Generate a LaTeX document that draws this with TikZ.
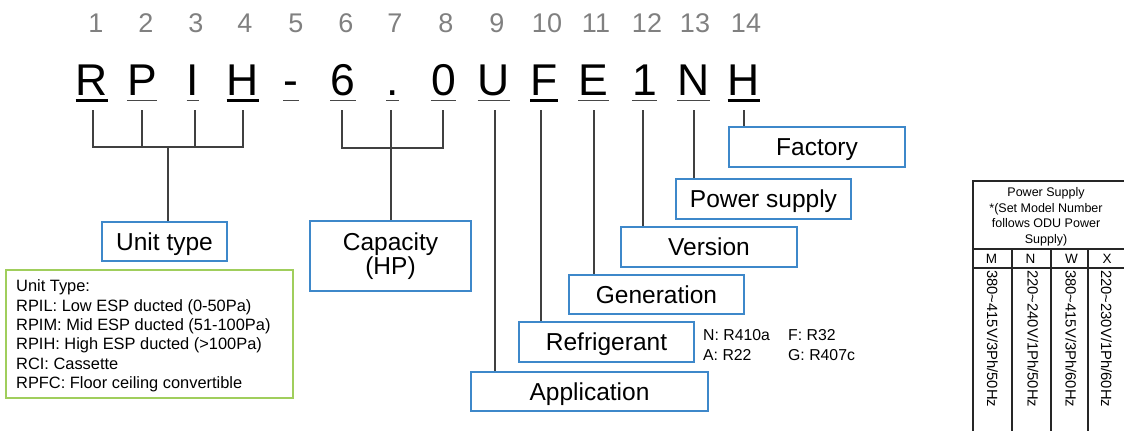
\documentclass[tikz,border=0pt]{standalone}
\usepackage{fontspec}
\setmainfont{Liberation Sans}
\definecolor{boxblue}{RGB}{62,136,202}
\definecolor{boxgreen}{RGB}{160,206,92}
\definecolor{wirecol}{RGB}{64,64,64}
\definecolor{numgrey}{RGB}{128,128,128}
\tikzset{
  bigletter/.style={anchor=base, inner sep=0pt, font=\fontsize{44.5bp}{52bp}\selectfont},
  posnum/.style={anchor=base, inner sep=0pt, text=numgrey, font=\fontsize{27bp}{32bp}\selectfont},
  ulthick/.style={line width=2.4bp, black},
  ulthin/.style={line width=1.6bp, black!72},
  wire/.style={draw=wirecol, line width=1.3bp},
  labelbox/.style={draw=boxblue, line width=1.4bp, inner sep=0pt, text height=17.2bp, text depth=0pt, font=\fontsize{24.5bp}{28bp}\selectfont},
  boxtext/.style={anchor=base, inner sep=0pt, font=\fontsize{24.5bp}{24bp}\selectfont},
  smalltext/.style={anchor=base west, inner sep=0pt},
  tabline/.style={draw=black!85, line width=1.1bp},
}
\begin{document}
\begin{tikzpicture}[x=1bp,y=-1bp]
\useasboundingbox (0,0) rectangle (1124,430);
\clip (0,0) rectangle (1124,430);

% position numbers
\foreach \n/\x in {1/96,2/146,3/196,4/245,5/296,6/346,7/395,8/446,9/497,10/547,11/596,12/647,13/695,14/746}
  \node[posnum] (N\n) at (\x,32) {\n};

% model letters
\foreach \n/\x/\c in {1/92/R,2/142/P,3/193/I,4/243/H,5/291/-,6/343/6,7/392.5/.,8/443.5/0,9/494/U,10/544/F,11/593.5/E,12/644.5/1,13/693.5/N,14/744/H}
  \node[bigletter] (L\n) at (\x,95) {\c};

\foreach \n in {1,4,10,14}
  \draw[ulthick] ([yshift=-5.6bp]L\n.base west) -- ([yshift=-5.6bp]L\n.base east);
\foreach \n in {2,3,5,6,7,8,9,11,12,13}
  \draw[ulthin] ([yshift=-5.6bp]L\n.base west) -- ([yshift=-5.6bp]L\n.base east);

% tick start points
\foreach \n/\x in {1/93,2/142,3/195,4/243,6/342,7/391,8/443,9/495,10/541,11/594,12/643,13/694,14/744}
  \coordinate (T\n) at (\x,110);

% Unit type
\node[labelbox, minimum width=125bp, minimum height=39bp] (ut) at (164.5,241.5) {Unit type};
\coordinate (utbar) at (168,147);
\draw[wire] (T1) -- (T1 |- utbar) -- (T4 |- utbar) -- (T4);
\draw[wire] (T2) -- (T2 |- utbar);
\draw[wire] (T3) -- (T3 |- utbar);
\draw[wire] (utbar) -- (utbar |- ut.north);

% Unit type list
\node[draw=boxgreen, line width=1.4bp, inner sep=0pt, minimum width=287bp, minimum height=128bp] (utlist) at (149.5,334) {};
\node[smalltext, font=\fontsize{16.4bp}{19.4bp}\selectfont] (utlisttext) at (16,291.7)
  {\begin{tabular}[t]{@{}l@{}}Unit Type:\\RPIL: Low ESP ducted (0-50Pa)\\RPIM: Mid ESP ducted (51-100Pa)\\RPIH: High ESP ducted (>100Pa)\\RCI: Cassette\\RPFC: Floor ceiling convertible\end{tabular}};

% Capacity
\node[labelbox, minimum width=161bp, minimum height=70bp] (cap) at (390.5,256) {};
\node[boxtext] (captext) at (390.5,250) {\begin{tabular}[t]{@{}c@{}}Capacity\\(HP)\end{tabular}};
\coordinate (capbar) at (391,148);
\draw[wire] (T6) -- (T6 |- capbar) -- (T8 |- capbar) -- (T8);
\draw[wire] (T7) -- (T7 |- capbar);
\draw[wire] (capbar) -- (capbar |- cap.north);

% Right-hand boxes
\node[labelbox, minimum width=237bp, minimum height=39bp] (app) at (589.5,391.5) {Application};
\node[labelbox, minimum width=175bp, minimum height=40bp] (ref) at (606.5,342) {Refrigerant};
\node[labelbox, minimum width=175bp, minimum height=39bp] (gen) at (656.5,294.5) {Generation};
\node[labelbox, minimum width=176bp, minimum height=40bp] (ver) at (709,247) {Version};
\node[labelbox, minimum width=175bp, minimum height=40bp] (pow) at (763.5,199) {Power supply};
\node[labelbox, minimum width=176bp, minimum height=40bp] (fac) at (817,147) {Factory};

\draw[wire] (T9) -- (T9 |- app.north);
\draw[wire] (T10) -- (T10 |- ref.north);
\draw[wire] (T11) -- (T11 |- gen.north);
\draw[wire] (T12) -- (T12 |- ver.north);
\draw[wire] (T13) -- (T13 |- pow.north);
\draw[wire] (T14) -- (T14 |- fac.north);

% Refrigerant codes
\node[smalltext, font=\fontsize{15.8bp}{19.3bp}\selectfont] (refnote) at (703,340.7)
  {\begin{tabular}[t]{@{}l@{}l@{}}\makebox[85bp][l]{N: R410a}&F: R32\\A: R22&G: R407c\end{tabular}};

% Power supply table
\draw[tabline] (973,181) rectangle (1127,440);
\draw[tabline] (973,249) -- (1127,249);
\draw[tabline] (973,268) -- (1127,268);
\foreach \x in {1012,1051,1088}
  \draw[tabline] (\x,249) -- (\x,440);
\node[anchor=base, inner sep=0pt, font=\fontsize{12.5bp}{15.5bp}\selectfont] (pshead) at (1046,196.7)
  {\begin{tabular}[t]{@{}c@{}}Power Supply\\{*}(Set Model Number\\follows ODU Power\\Supply)\end{tabular}};
\foreach \c/\x in {M/991.5,N/1030.5,W/1071.5,X/1107}
  \node[anchor=base, inner sep=0pt, font=\fontsize{13.5bp}{15bp}\selectfont] (code\c) at (\x,263.5) {\c};
\foreach \c/\x/\t in {M/992.5/{380\textasciitilde 415V/3Ph/50Hz},N/1033/{220\textasciitilde 240V/1Ph/50Hz},W/1071/{380\textasciitilde 415V/3Ph/60Hz},X/1106.5/{220\textasciitilde 230V/1Ph/60Hz}}
  \node[rotate=-90, anchor=west, inner sep=0pt, font=\fontsize{14.8bp}{16bp}\selectfont] (volt\c) at (\x,270) {\t};
\end{tikzpicture}
\end{document}
